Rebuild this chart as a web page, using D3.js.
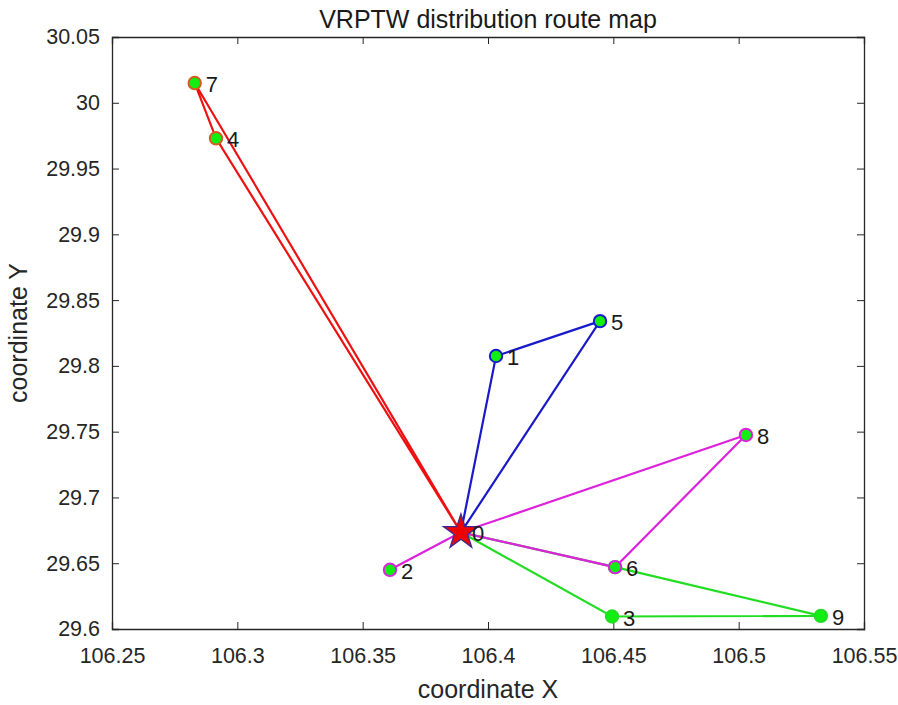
<!DOCTYPE html>
<html lang="en">
<head>
  <meta charset="UTF-8">
  <title>VRPTW distribution route map</title>
  <style>
    body { margin: 0; background: #fff; }
    svg { font-family: "Liberation Sans", Arial, sans-serif; }
    .axis path, .axis line { stroke: #262626; }
    .axis text { fill: #262626; font-size: 21.5px; font-family: "Liberation Sans", Arial, sans-serif; }
    .route { fill: none; stroke-width: 2.2px; }
    .node-label { font-size: 22px; fill: #1a1a1a; }
  </style>
</head>
<body>
<div id="chart"></div>
<script src="https://d3js.org/d3.v7.min.js"></script>
<script>
  // node ids and coordinates (0 is the depot)
  var nodeIds = [0, 1, 2, 3, 4, 5, 6, 7, 8, 9];
  var nodeX = [106.3892, 106.4032, 106.3609, 106.4495, 106.2915, 106.4447, 106.4507, 106.2830, 106.5029, 106.5328];
  var nodeY = [29.6735, 29.8075, 29.6450, 29.6095, 29.9730, 29.8340, 29.6470, 30.0150, 29.7475, 29.6100];

  // routes, each starts and ends at the depot
  var routes = [
    [0, 3, 9, 6, 0],
    [0, 7, 4, 0],
    [0, 1, 5, 0],
    [0, 8, 6, 0, 2, 0]
  ];
  var routeColors = ["#22dd22", "#ee1111", "#1a1ac8", "#dd22dd"];

  var xTicks = [106.25, 106.3, 106.35, 106.4, 106.45, 106.5, 106.55];
  var yTicks = [29.6, 29.65, 29.7, 29.75, 29.8, 29.85, 29.9, 29.95, 30, 30.05];

  var width = 898, height = 705;
  var margin = { top: 37, right: 34, bottom: 76, left: 112 };
  var innerW = width - margin.left - margin.right;
  var innerH = height - margin.top - margin.bottom;

  var svg = d3.select("#chart").append("svg")
    .attr("width", width)
    .attr("height", height);

  var xScale = d3.scaleLinear().domain([106.25, 106.55]).range([0, innerW]);
  var yScale = d3.scaleLinear().domain([29.6, 30.05]).range([innerH, 0]);

  var g = svg.append("g").attr("transform", "translate(" + margin.left + "," + margin.top + ")");

  // axes with inward ticks, box on all four sides
  g.append("g").attr("class", "axis")
    .attr("transform", "translate(0," + innerH + ")")
    .call(d3.axisBottom(xScale).tickValues(xTicks).tickSize(-7).tickPadding(19).tickFormat(d3.format("")));
  g.append("g").attr("class", "axis")
    .call(d3.axisTop(xScale).tickValues(xTicks).tickSize(-7).tickFormat(""));
  g.append("g").attr("class", "axis")
    .call(d3.axisLeft(yScale).tickValues(yTicks).tickSize(-7).tickPadding(12).tickFormat(d3.format("")));
  g.append("g").attr("class", "axis")
    .attr("transform", "translate(" + innerW + ",0)")
    .call(d3.axisRight(yScale).tickValues(yTicks).tickSize(-7).tickFormat(""));

  g.selectAll(".axis path").attr("stroke-width", 1.3);

  // route lines
  var line = d3.line()
    .x(function(id) { return xScale(nodeX[id]); })
    .y(function(id) { return yScale(nodeY[id]); });

  g.selectAll(".route")
    .data(routes)
    .enter().append("path")
    .attr("class", "route")
    .attr("stroke", function(d, i) { return routeColors[i]; })
    .attr("d", line);

  // customer markers, edge coloured by the route that serves them
  routes.forEach(function(r, i) {
    r.forEach(function(id) {
      if (id === 0) return;
      g.append("circle")
        .attr("cx", xScale(nodeX[id]))
        .attr("cy", yScale(nodeY[id]))
        .attr("r", 6.2)
        .attr("fill", "#11ee11")
        .attr("stroke", i === 1 ? "#d85a20" : routeColors[i])
        .attr("stroke-width", 2);
    });
  });

  // depot star
  var star = d3.symbol().type(d3.symbolStar).size(380);
  g.append("path")
    .attr("d", star)
    .attr("transform", "translate(" + xScale(nodeX[0]) + "," + yScale(nodeY[0]) + ")")
    .attr("fill", "#ee0000")
    .attr("stroke", "#3a2a9a")
    .attr("stroke-width", 1.3);

  // node labels
  g.selectAll(".node-label")
    .data(nodeIds)
    .enter().append("text")
    .attr("class", "node-label")
    .attr("x", function(id) { return xScale(nodeX[id]) + 11; })
    .attr("y", function(id) { return yScale(nodeY[id]) + 9; })
    .text(function(id) { return id; });

  // title and axis labels
  svg.append("text")
    .attr("x", margin.left + innerW / 2)
    .attr("y", 28)
    .attr("text-anchor", "middle")
    .attr("font-size", "25px")
    .attr("fill", "#1a1a1a")
    .text("VRPTW distribution route map");

  svg.append("text")
    .attr("x", margin.left + innerW / 2)
    .attr("y", 698)
    .attr("text-anchor", "middle")
    .attr("font-size", "25px")
    .attr("fill", "#262626")
    .text("coordinate X");

  svg.append("text")
    .attr("transform", "translate(27," + (margin.top + innerH / 2) + ") rotate(-90)")
    .attr("text-anchor", "middle")
    .attr("font-size", "25px")
    .attr("fill", "#262626")
    .text("coordinate Y");
</script>
</body>
</html>
